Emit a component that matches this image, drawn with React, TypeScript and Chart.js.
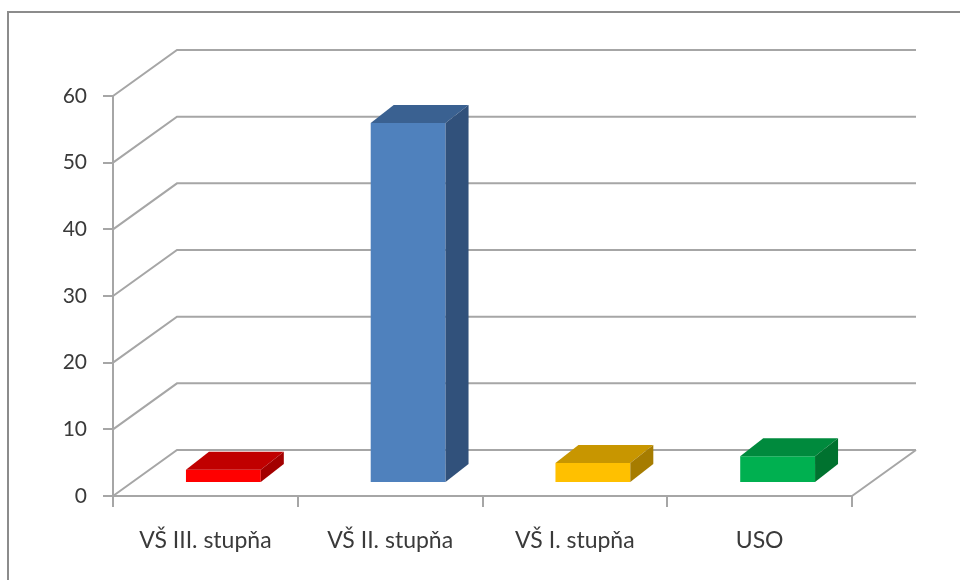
import React, { useEffect, useRef } from "react";
import { Chart, registerables } from "chart.js";

Chart.register(...registerables);

// ---- data ----
const categories = ["VŠ III. stupňa", "VŠ II. stupňa", "VŠ I. stupňa", "USO"];
const values = [2, 54, 3, 4];
const yTicks = [0, 10, 20, 30, 40, 50, 60];

// ---- styles ----
const FRONT = ["#ff0000", "#4f81bd", "#ffc000", "#00b050"];
const TOP = ["#c00000", "#3a6191", "#c89600", "#008a3d"];
const SIDE = ["#a30000", "#31517b", "#a67c00", "#00722f"];
const GRID = "#a6a6a6";
const TEXT = "#3a3a3a";
const YFONT = { family: "Lato, 'Open Sans', sans-serif", size: 21 };
const XFONT = { family: "Lato, 'Open Sans', sans-serif", size: 23 };

const WALL_DX = 64;
const WALL_DY = -46;
const BAR_DX = 18;
const BAR_DY = -13;
const DEPTH_DX = 23;
const DEPTH_DY = -18;

const threeD = {
  id: "threeD",
  beforeDraw(chart: any) {
    const ctx = chart.ctx;
    ctx.save();
    ctx.strokeStyle = "#8c8c8c";
    ctx.lineWidth = 2;
    ctx.strokeRect(8, 12, chart.width + 40, chart.height + 40);
    ctx.restore();
  },
  beforeDatasetsDraw(chart: any) {
    const { ctx, chartArea, scales } = chart;
    const y = scales.y;
    ctx.save();
    ctx.strokeStyle = GRID;
    ctx.lineWidth = 2;
    ctx.beginPath();
    y.ticks.forEach((t: any) => {
      const py = y.getPixelForValue(t.value);
      ctx.moveTo(chartArea.left, py);
      ctx.lineTo(chartArea.left + WALL_DX, py + WALL_DY);
      ctx.lineTo(chartArea.right + WALL_DX, py + WALL_DY);
    });
    const by = y.getPixelForValue(0);
    ctx.moveTo(chartArea.right, by);
    ctx.lineTo(chartArea.right + WALL_DX, by + WALL_DY);
    ctx.stroke();
    ctx.restore();
    ctx.save();
    ctx.translate(BAR_DX, BAR_DY);
  },
  afterDatasetsDraw(chart: any) {
    const ctx = chart.ctx;
    const meta = chart.getDatasetMeta(0);
    meta.data.forEach((bar: any, i: number) => {
      const { x, y, base, width } = bar.getProps(["x", "y", "base", "width"], true);
      const L = x - width / 2;
      const R = x + width / 2;
      ctx.fillStyle = TOP[i];
      ctx.beginPath();
      ctx.moveTo(L, y);
      ctx.lineTo(L + DEPTH_DX, y + DEPTH_DY);
      ctx.lineTo(R + DEPTH_DX, y + DEPTH_DY);
      ctx.lineTo(R, y);
      ctx.closePath();
      ctx.fill();
      ctx.fillStyle = SIDE[i];
      ctx.beginPath();
      ctx.moveTo(R, y);
      ctx.lineTo(R + DEPTH_DX, y + DEPTH_DY);
      ctx.lineTo(R + DEPTH_DX, base + DEPTH_DY);
      ctx.lineTo(R, base);
      ctx.closePath();
      ctx.fill();
    });
    ctx.restore();
  },
};

export default function App() {
  const ref = useRef<HTMLCanvasElement>(null);
  useEffect(() => {
    if (!ref.current) return;
    const chart = new Chart(ref.current, {
      type: "bar",
      data: {
        labels: categories,
        datasets: [
          {
            data: values,
            backgroundColor: FRONT,
            borderWidth: 0,
            categoryPercentage: 1,
            barPercentage: 0.405,
          },
        ],
      },
      options: {
        responsive: false,
        animation: false,
        layout: { padding: { left: 0, top: 96, right: 108, bottom: 0 } },
        plugins: { legend: { display: false }, tooltip: { enabled: false } },
        scales: {
          x: {
            grid: {
              display: true,
              drawOnChartArea: false,
              drawTicks: true,
              tickLength: 11,
              color: GRID,
              lineWidth: 2,
              offset: true,
            },
            border: { display: true, color: GRID, width: 2 },
            ticks: { font: XFONT, color: TEXT, padding: 20, maxRotation: 0, autoSkip: false },
            afterFit: (s: any) => {
              s.height = 84;
            },
          },
          y: {
            min: 0,
            max: 60,
            afterBuildTicks: (s: any) => {
              s.ticks = yTicks.map((v) => ({ value: v }));
            },
            grid: { drawOnChartArea: false, drawTicks: true, tickLength: 10, color: GRID, lineWidth: 2 },
            border: { display: true, color: GRID, width: 2 },
            ticks: { font: YFONT, color: TEXT, padding: 16 },
            afterFit: (s: any) => {
              s.width = 113;
            },
          },
        },
      },
      plugins: [threeD],
    });
    return () => chart.destroy();
  }, []);
  return (
    <canvas
      ref={ref}
      width={960}
      height={580}
      style={{ position: "absolute", left: 0, top: 0, display: "block", background: "#fff" }}
    />
  );
}
